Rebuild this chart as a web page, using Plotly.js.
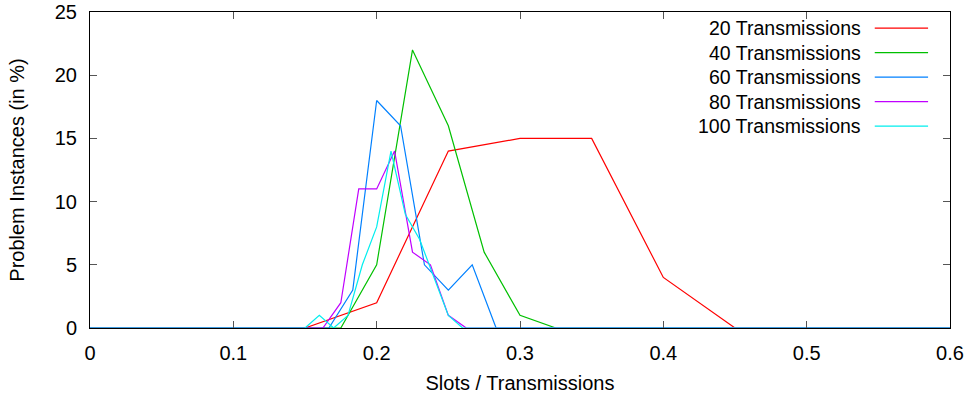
<!DOCTYPE html>
<html>
<head>
<meta charset="utf-8">
<script src="https://cdn.plot.ly/plotly-3.0.1.min.js"></script>
<style>
  html, body { margin: 0; padding: 0; background: #fff; }
  #chart { width: 971px; height: 401px; }
</style>
</head>
<body>
<div id="chart"></div>
<script>
// Share of problem instances (%) per slots/transmissions ratio
const seriesNames = ["20 Transmissions", "40 Transmissions", "60 Transmissions", "80 Transmissions", "100 Transmissions"];
const seriesColors = ["#ff0000", "#00c000", "#0080ff", "#c000ff", "#00eeee"];

const ratio20 = [0, 0.15, 0.20, 0.25, 0.30, 0.35, 0.40, 0.45, 0.6];
const share20 = [0, 0, 2, 14, 15, 15, 4, 0, 0];

const ratio40 = [0, 0.175, 0.200, 0.225, 0.250, 0.275, 0.300, 0.325, 0.6];
const share40 = [0, 0, 5, 22, 16, 6, 1, 0, 0];

const ratio60 = [0, 10/60, 11/60, 12/60, 13/60, 14/60, 15/60, 16/60, 17/60, 0.6];
const share60 = [0, 0, 3, 18, 16, 5, 3, 5, 0, 0];

const ratio80 = [0, 0.1625, 0.1750, 0.1875, 0.2000, 0.2125, 0.2250, 0.2375, 0.2500, 0.2625, 0.6];
const share80 = [0, 0, 2, 11, 11, 14, 6, 5, 1, 0, 0];

const ratio100 = [0, 0.15, 0.16, 0.17, 0.18, 0.19, 0.20, 0.21, 0.22, 0.23, 0.24, 0.25, 0.26, 0.6];
const share100 = [0, 0, 1, 0, 1, 5, 8, 14, 9, 7, 4, 1, 0, 0];

const xTicks = [0, 0.1, 0.2, 0.3, 0.4, 0.5, 0.6];
const yTicks = [0, 5, 10, 15, 20, 25];

const xs = [ratio20, ratio40, ratio60, ratio80, ratio100];
const ys = [share20, share40, share60, share80, share100];

const FONT = "Liberation Sans, Arial, Helvetica, sans-serif";
const TXT = 20;

const traces = xs.map((x, i) => ({
  type: "scatter",
  mode: "lines",
  x: x,
  y: ys[i],
  name: seriesNames[i],
  line: { color: seriesColors[i], width: 1.2 },
  showlegend: false,
  hoverinfo: "x+y+name"
}));

// Key in the top-right corner: right-aligned labels followed by a line sample
const keyTop = 0.949, keyStep = 0.0775;
const keyTextX = 0.8985, keyLineX0 = 0.9125, keyLineX1 = 0.9745;
const annotations = seriesNames.map((n, i) => ({
  xref: "paper", yref: "paper",
  x: keyTextX, y: keyTop - i * keyStep,
  xanchor: "right", yanchor: "middle",
  text: n, showarrow: false,
  font: { family: FONT, size: 19.5, color: "#000" }
}));
const shapes = seriesColors.map((c, i) => ({
  type: "line", xref: "paper", yref: "paper",
  x0: keyLineX0, x1: keyLineX1,
  y0: keyTop - i * keyStep, y1: keyTop - i * keyStep,
  line: { color: c, width: 1.2 }
}));

const layout = {
  width: 971, height: 401,
  margin: { l: 90, r: 21, t: 12, b: 73 },
  paper_bgcolor: "#fff", plot_bgcolor: "#fff",
  font: { family: FONT, size: TXT, color: "#000" },
  xaxis: {
    range: [0, 0.6],
    tickvals: xTicks,
    ticktext: xTicks.map(String),
    ticks: "inside", ticklen: 7, tickwidth: 1, tickcolor: "#555",
    mirror: "ticks", showline: true, linecolor: "#000", linewidth: 1,
    showgrid: false, zeroline: false,
    ticklabelstandoff: 7,
    tickfont: { family: FONT, size: TXT, color: "#000" },
    title: { text: "Slots / Transmissions", font: { family: FONT, size: TXT, color: "#000" }, standoff: 12 }
  },
  yaxis: {
    range: [0, 25],
    tickvals: yTicks,
    ticktext: yTicks.map(String),
    ticks: "inside", ticklen: 7, tickwidth: 1, tickcolor: "#555",
    mirror: "ticks", showline: true, linecolor: "#000", linewidth: 1,
    showgrid: false, zeroline: false,
    ticklabelstandoff: 8,
    tickfont: { family: FONT, size: TXT, color: "#000" },
    title: { text: "Problem Instances (in %)", font: { family: FONT, size: TXT, color: "#000" }, standoff: 24 }
  },
  annotations: annotations,
  shapes: shapes,
  showlegend: false
};

Plotly.newPlot("chart", traces, layout, { staticPlot: true, displayModeBar: false });
</script>
</body>
</html>
